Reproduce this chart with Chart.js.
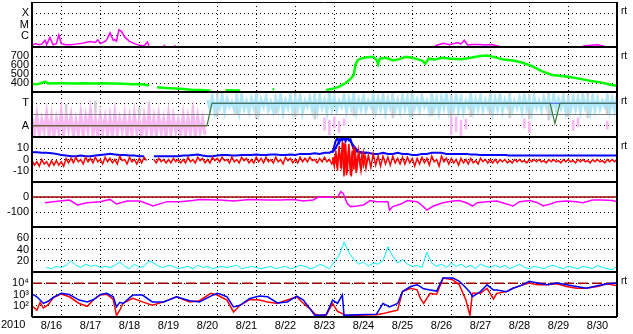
<!DOCTYPE html>
<html>
<head>
<meta charset="utf-8">
<script src="https://cdn.jsdelivr.net/npm/chart.js@4/dist/chart.umd.min.js"></script>
<style>
  html, body { margin: 0; padding: 0; background: #fff; }
  #wrap { width: 633px; height: 334px; }
</style>
</head>
<body>
<div id="wrap"><canvas id="chart"></canvas></div>
<script>
// time axis: hours since 2010-08-16 00:00 UT, 15 days
const yearLabel = "2010";
const dayLabels = ["8/16", "8/17", "8/18", "8/19", "8/20", "8/21", "8/22", "8/23",
    "8/24", "8/25", "8/26", "8/27", "8/28", "8/29", "8/30"];
const hours3 = [0, 3, 6, 9, 12, 15, 18, 21, 24, 27, 30, 33, 36, 39, 42, 45, 48, 51, 54, 57, 60, 63, 66, 69,
    72, 75, 78, 81, 84, 87, 90, 93, 96, 99, 102, 105, 108, 111, 114, 117, 120, 123, 126, 129, 132, 135, 138, 141,
    144, 147, 150, 153, 156, 159, 162, 165, 168, 171, 174, 177, 180, 183, 186, 189, 192, 195, 198, 201, 204, 207,
    210, 213, 216, 219, 222, 225, 228, 231, 234, 237, 240, 243, 246, 249, 252, 255, 258, 261, 264, 267, 270, 273,
    276, 279, 282, 285, 288, 291, 294, 297, 300, 303, 306, 309, 312, 315, 318, 321, 324, 327, 330, 333, 336, 339,
    342, 345, 348, 351, 354, 357, 360];

// panel 1: x-ray flux (W/m2)
const xrayTicks = [1e-4, 1e-5, 1e-6];
const xrayTickLabels = ["X", "M", "C"];
const xrayHours = [0, 2, 4, 6, 8, 9, 11, 13, 15, 16.5, 18, 21, 24, 27, 30, 33, 36, 39, 40.5, 42, 45, 46, 48, 50, 51,
    52, 53.5, 55, 57, 60, 63, 66, 69, 71, 72, 73, 81, 82, 83, 87.5, 88.5, 89, 248, 253, 257, 262, 264, 266, 268,
    271, 275, 279, 283, 287, 288, 289, 339, 344, 348, 352, 353];
const xrayFlux = [1.4e-7, 2.0e-7, 1.6e-7, 1.8e-7, 4.0e-7, 1.6e-7, 7.1e-7, 1.6e-7, 2.0e-7, 1.15e-6,
    2.0e-7, 1.6e-7, 1.6e-7, 1.8e-7, 2.0e-7, 2.5e-7, 3.0e-7, 2.5e-7, 4.5e-7, 2.0e-7,
    3.2e-7, 4.5e-7, 1.8e-6, 4.0e-7, 4.5e-7, 3.2e-7, 3.5e-6, 2.5e-6, 7.9e-7, 3.2e-7,
    2.0e-7, 1.4e-7, 1.26e-7, 2.8e-7, 1.26e-7, null, 1.4e-7, 1.3e-7, null, 1.2e-7,
    1.2e-7, null, 1.3e-7, 2.1e-7, 1.6e-7, 2.5e-7, 1.8e-7, 4.0e-7, 1.5e-7, 1.7e-7,
    1.7e-7, 1.5e-7, 1.7e-7, 1.2e-7, 1.1e-7, null, 1.2e-7, 1.4e-7, 1.6e-7, 1.2e-7, null];

// panel 2: solar wind speed (km/s)
const speedTicks = [700, 600, 500, 400];
const speedHours = [0, 3, 6, 8, 10, 14, 20, 26, 32, 38, 44, 50, 56, 62, 66, 70, 72, 73, 77, 82, 88, 93, 98, 104,
    108, 110, 111, 119, 128, 129, 148, 149, 150, 181, 186, 189, 193, 196, 198, 199, 200.5, 203, 206, 210, 212, 213,
    214, 218, 222, 226, 230, 234, 238, 240, 242, 244, 248, 252, 258, 264, 270, 276, 280, 284, 290, 296, 302, 308,
    314, 320, 326, 332, 338, 344, 350, 356, 360];
const speedKms = [390, 385, 400, 415, 395, 398, 396, 395, 398, 394, 396, 395, 392, 385, 388, 380, 372, null,
    352, 345, 340, 333, 325, 322, 318, 315, null, 319, 318, null, 330, 330, null, 322, 340, 360, 400, 445, 490,
    600, 656, 674, 685, 692, 656, 610, 670, 680, 650, 665, 690, 680, 660, 650, 615, 670, 660, 680, 670, 665, 680,
    700, 705, 690, 660, 650, 625, 585, 530, 490, 478, 463, 443, 422, 407, 380, 368];

// panel 3: sector (T = toward, A = away); noisy bands given as low/high per 3 h
const sectorTicks = [1, -1];
const sectorTickLabels = ["T", "A"];
const pinkHours = hours3.slice(0, 36);
const pinkHi = [-0.3, -0.1, -0.5, 0.1, -0.2, -0.4, 0.2, -0.3, -0.1, -0.5, 0.0, -0.2, 0.3, -0.4, -0.1, -0.3,
    -0.2, 0.1, -0.4, -0.1, -0.3, 0.0, -0.5, -0.2, 0.2, -0.3, -0.1, -0.4, 0.0, -0.2, -0.5, -0.1, -0.3, 0.1, -0.2,
    -0.4];
const pinkLo = [-1.7, -1.9, -1.5, -1.8, -1.95, -1.6, -1.8, -1.4, -1.9, -1.7, -1.95, -1.5, -1.8, -1.9, -1.6,
    -1.8, -1.95, -1.7, -1.5, -1.9, -1.8, -1.6, -1.95, -1.7, -1.8, -1.9, -1.6, -1.95, -1.7, -1.5, -1.8, -1.9,
    -1.7, -1.95, -1.6, -1.8];
const pinkLateHours = [180, 183, 186, 189, 192, 258, 261, 264, 267, 303, 306, 333, 336, 354];
const pinkLateHi = [-0.3, -0.5, -0.2, -0.6, -0.4, -0.3, -0.2, -0.5, -0.4, -0.4, -0.6, -0.5, -0.3, -0.6];
const pinkLateLo = [-1.4, -1.8, -1.2, -1.6, -1.0, -1.8, -1.5, -1.9, -1.3, -1.2, -1.6, -1.4, -1.1, -1.3];
const skyHours = hours3.slice(36);
const skyHi = [1.3, 1.6, 1.2, 1.7, 1.4, 1.1, 1.5, 1.65, 1.2, 1.4, 1.7, 1.3, 1.55, 1.1, 1.45, 1.7, 1.25, 1.6,
    1.35, 1.7, 1.2, 1.5, 1.4, 1.65, 1.3, 1.75, 1.5, 1.2, 1.6, 1.4, 1.7, 1.3, 1.55, 1.2, 1.65, 1.4, 1.7, 1.35,
    1.5, 1.25, 1.6, 1.45, 1.7, 1.3, 1.55, 1.2, 1.65, 1.4, 1.5, 1.75, 1.3, 1.6, 1.45, 1.2, 1.7, 1.35, 1.55,
    1.25, 1.6, 1.4, 1.7, 1.3, 1.5, 1.2, 1.45, 1.65, 1.3, 1.55, 1.2, 1.5, 1.4, 1.7, 1.35, 1.6, 1.25, 1.5, 1.45,
    1.7, 1.3, 1.6, 1.4, 1.2, 1.55, 1.35, 1.6];
const skyLo = [0.5, 0.2, 0.6, 0.3, 0.7, 0.4, 0.2, 0.5, 0.3, 0.6, 0.2, 0.7, 0.4, 0.3, 0.5, 0.2, 0.6, 0.3, 0.5,
    0.2, 0.7, 0.4, 0.3, 0.6, 0.2, 0.5, 0.4, 0.7, 0.3, 0.6, 0.2, 0.5, 0.4, 0.7, 0.3, 0.5, 0.2, 0.6, 0.4, 0.3,
    0.5, 0.2, 0.6, 0.4, 0.7, 0.3, 0.5, 0.2, 0.6, 0.3, 0.5, 0.4, 0.2, 0.7, 0.3, 0.5, 0.4, 0.6, 0.2, 0.5, 0.3,
    0.7, 0.4, 0.6, 0.3, 0.5, 0.2, 0.6, 0.4, 0.7, 0.3, 0.5, 0.6, 0.2, 0.4, 0.5, 0.3, 0.6, 0.2, 0.4, 0.5, 0.7,
    0.3, 0.4, 0.6];
const greyHours = [21, 39, 66, 72, 99, 114, 126, 138, 150, 162, 174, 198, 210, 222, 234, 246, 258, 270, 282,
    294, 306, 318, 330, 342, 354];
const greyHi = [0.9, 1.2, 0.6, 1.1, 0.8, 1.9, 1.8, 1.9, 1.7, 1.9, 1.8, 1.9, 1.7, 1.9, 1.8, 1.9, 1.7, 1.9, 1.8,
    1.9, 1.8, 1.9, 1.7, 1.9, 1.8];
const greyLo = [-0.4, 0.1, -0.2, 0.2, -0.5, -0.2, 0.0, -0.3, 0.1, -0.2, -0.4, -0.1, 0.0, -0.3, -0.2, -0.1,
    -0.4, -0.2, 0.0, -0.3, -0.4, -0.5, -0.2, -0.3, 0.0];
const polarityHours = [0, 107.7, 110.7, 318.8, 321.8, 324.9, 360];
const polarity = [-1, -1, 1, 1, -0.8, 1, 1];
const awayEnd = 107.7;
const towardStart = 110.7;

// panel 4: IMF Bt (blue) and Bz (red, low/high per 3 h), nT
const magTicks = [10, 0, -10];
const btNt = [6.5, 6.5, 6, 6, 5.5, 5, 4, 3.5, 3, 3, 3.5, 3, 3, 3.5, 4, 4.5, 5, 4.5, 4, 4, 3.5, 3.5, 3, 3,
    null, 3, 3, 3, 3, 3, 3, 3.5, 3.5, 4, 4.5, 3.5, 3, 3, 3.5, 4, 4, 3.5, 3.5, 4, 4, 4, 4.5, 4,
    4, 4.5, 4.5, 4, 4, 4.5, 4, 5, 5, 5, 5.5, 5, 6, 6, 8, 16, 19, 18, 12, 7, 6, 6, 5, 5,
    6, 5, 5, 6, 5, 5, 4, 4, 5, 5, 6, 6, 6, 5, 5, 5, 5, 5, 4.5, 4.5, 4, 4, 4, 4,
    4, 4, 3.5, 3.5, 3.5, 3.5, 3.5, 3.5, 3.5, 3.5, 3.5, 3.5, 3.5, 3.5, 3.5, 3.5,
    3.5, 3.5, 3.5, 3.5, 3.5, 3.5, 3.5, 3.5, 3.5];
const bzHi = [-1, -2, 0, -2, -1, -1, -2, 1, 1, 2, 0, 2, 1, 2, 0, 2, 1, 0, 3, 0, 2, 0, 1, 2,
    null, 0, 1, 0, 0, 1, 0, 0, 2, 0, 2, 1, 0, 2, 1, 2, 0, 2, 0, 2, 1, 0, 2, 1,
    2, 0, 2, 0, 2, 1, 0, 2, 1, 2, 0, 1, 2, 0, 2, 8, 15, 14, 12, 8, 6, 4, 5, 3,
    3, 2, 3, 1, 2, 2, 1, 1, 2, 1, 3, 0, 3, 1, 1, 0, 1, 0, 1, -1, 1, 0, 0, 0,
    0, 0, -1, 0, 0, -1, 0, 0, 0, -1, 0, 0, -1, 0, 0, -1,
    0, 0, -1, 0, 0, -1, 0, 0, 0];
const bzLo = [-5, -6, -4, -6, -5, -5, -6, -3, -3, -2, -4, -2, -3, -2, -4, -2, -3, -4, -1, -4, -2, -4, -3, -1,
    null, -3, -2, -3, -3, -2, -3, -3, -2, -3, -1, -3, -3, -1, -2, -1, -3, -2, -3, -1, -3, -3, -2, -3,
    -2, -3, -2, -4, -1, -3, -3, -2, -2, -1, -3, -2, -2, -4, -5, -6, -14, -15, -12, -10, -8, -7, -5, -6,
    -4, -5, -3, -4, -4, -3, -6, -4, -3, -5, -2, -6, -2, -4, -3, -5, -3, -4, -3, -4, -2, -3, -3, -3,
    -2, -3, -3, -2, -2, -3, -2, -2, -2, -3, -2, -2, -3, -2, -2, -3,
    -2, -2, -3, -2, -2, -3, -2, -2, -2];
const stormHours = [185, 186, 187, 188, 189, 190, 191, 192, 193, 194, 195, 196, 197, 198, 199, 200, 201, 202,
    203, 204, 205, 206];
const btStorm = [6, 12, 17, 19, 15, 20, 17, 19, 16, 20, 17, 18, 13, 10, 8, 7, 7, 6, 6, 6, 6, 6];
const bzStorm = [2, -6, 8, -10, 12, -8, 16, -15, 14, -12, 10, -14, 8, -9, 6, -7, 5, -6, 4, -5, 3, -3];

// panel 5: Dst (nT)
const dstTicks = [0, -100];
const dstHours = [8, 17, 23, 28, 34, 42, 48, 52, 58.5, 66.5, 74.5, 83, 91, 99, 103, 114, 116, 124, 134, 145,
    153, 161, 167, 173, 176, 185, 186, 188, 190, 191.5, 194, 196, 200, 204, 208, 212, 219, 220, 222, 227, 231,
    237, 239, 243, 247, 253, 259, 263, 268, 271, 274, 280, 286, 292, 296, 300, 306.5, 311, 314.5, 319, 323, 329,
    335, 339, 345, 351, 357.5, 360];
const dstNt = [-38, -27, -20, -53, -38, -31, -16, -47, -27, -27, -60, -31, -31, -24, -16, -20, -20, -27, -16,
    -20, -20, -16, -27, -20, -2, -2, null, -2, 36, 24, -44, -64, -60, -53, -24, -31, -31, -87, -64, -47, -24,
    -31, -47, -87, -60, -38, -27, -24, -42, -60, -38, -31, -27, -47, -60, -31, -24, -38, -60, -47, -31, -27,
    -31, -38, -20, -20, -24, -31];

// panel 6: density-like trace
const densTicks = [60, 40, 20];
const density = [null, null, null, 8, 6, 10, 8, 12, 20, 12, 8, 14, 10, 12, 8, 10, 8, 12, 18, 10, 6, 14, 8, 10,
    20, 16, 10, 8, 12, 10, 6, 8, 10, 6, 12, 8, 10, 6, 8, 10, 8, 10, 12, 6, 8, 10, 8, 6,
    8, 10, 6, 8, 10, 6, 8, 12, 10, 6, 8, 14, 10, 6, 18, 30, 53, 35, 22, 14, 18, 10, 16, 14,
    20, 45, 28, 16, 22, 14, 10, 12, 8, 35, 16, 10, 14, 8, 16, 10, 14, 8, 12, 6, 14, 10, 8, 12,
    8, 12, 6, 10, 14, 8, 6, 10, 8, 6, 10, 12, 8, 6, 10, 8, 6, 10, 8, 6, 12, 8, 6, 4, 10];

// panel 7: particle flux, two channels
const fluxTicks = [1e4, 1e3, 1e2];
const fluxTickLabels = ["10\u2074", "10\u00b3", "10\u00b2"];
const fluxAlert = 1e4;
const fluxHours = [0, 3, 5, 7, 10, 13, 18, 23, 29, 34, 38, 42, 46, 50, 52, 54, 56, 62, 68, 74, 81, 89, 97, 103,
    110, 114, 116, 120, 124, 128, 134, 140, 145, 151, 157, 163, 167, 171, 174, 177, 181, 185, 188, 191, 192, 200,
    212, 216, 220, 225, 228, 233, 237, 239, 241, 245, 249, 253, 259, 263, 267, 269.5, 271, 276, 280, 284, 286,
    292, 296, 302, 306, 311, 317, 323, 329, 335, 341, 348, 354, 360];
const fluxBlue = [1120, 630, 320, 160, 250, 550, 1260, 1000, 320, 220, 360, 1000, 1290, 630, 80, 200, 160, 890,
    890, 220, 220, 630, 280, 220, 720, 1290, 1050, 630, 78, 110, 450, 720, 630, 180, 220, 720, 320, 55, 14, 14,
    16, 320, 160, 890, 14, 16, 18, 160, 78, 160, 1800, 5100, 7200, 5000, 3200, 2500, 2000, 29500, 29500, 14800,
    4000, 1600, 630, 1800, 7200, 2500, 2500, 1800, 3600, 7200, 14800, 10500, 7200, 10500, 7200, 5100, 3600, 5900,
    8900, 10500];
const fluxRed = [100, 40, 200, 63, 126, 500, 1120, 630, 160, 89, 360, 890, 1050, 360, 14, 40, 160, 450, 220, 110,
    220, 630, 220, 280, 1290, 890, 630, 320, 28, 110, 360, 320, 220, 160, 320, 630, 160, 55, 19, 14, 14, 160, 32,
    20, 14, 14, 16, 20, 28, 40, 1800, 3600, 2600, 450, 160, 1260, 1000, 29500, 20000, 7200, 320, 14, 1290, 1290,
    3600, 400, 1260, 1800, 3600, 7200, 10500, 7200, 7200, 8900, 5100, 3600, 3600, 5100, 8900, 5900];

const FONT = "'Liberation Sans', Arial, sans-serif";
const panelIds = ["yXray", "ySpeed", "ySector", "yMag", "yDst", "yDens", "yFlux"];
const rtPanels = ["yXray", "ySpeed", "ySector", "yMag", "yFlux"];

const pts = (xs, ys) => xs.map((x, i) => ({ x: x, y: ys[i] }));
const spans = (xs, lo, hi) => xs.map((x, i) => ({ x: x, y: [lo[i], hi[i]] }));
// low/high pairs drawn as a scribble: high at the sample hour, low half a step later
const scribble = (xs, lo, hi) => xs.flatMap((x, i) => [{ x: x, y: hi[i] }, { x: x + 1.5, y: lo[i] }]);

function line(axis, data, color, width, order, dash) {
    return {
        type: "line", yAxisID: axis, data: data, borderColor: color, borderWidth: width,
        borderDash: dash || [], pointRadius: 0, fill: false, tension: 0, order: order
    };
}

function band(axis, data, color, order) {
    return {
        type: "bar", yAxisID: axis, data: data, backgroundColor: color, borderWidth: 0,
        barThickness: 2, grouped: false, order: order
    };
}

function panelScale(weight, type, min, max, tickValues, tickLabels) {
    return {
        type: type, min: min, max: max, position: "left", stack: "panels", stackWeight: 1, weight: weight,
        grid: { color: "#000", lineWidth: 1, drawTicks: false },
        border: { display: false, dash: [1, 3] },
        ticks: {
            color: "#000", font: { family: FONT, size: 11 }, padding: 3, autoSkip: false,
            callback: (v, i) => tickLabels[i]
        },
        afterBuildTicks: s => { s.ticks = tickValues.map(v => ({ value: v })); },
        afterFit: s => { s.width = 32; s.paddingTop = 0; s.paddingBottom = 0; }
    };
}

const panelFrame = {
    id: "panelFrame",
    afterDatasetsDraw(chart) {
        const { ctx, chartArea } = chart;
        ctx.save();
        ctx.strokeStyle = "#000";
        ctx.lineWidth = 2;
        ctx.beginPath();
        panelIds.slice(1).forEach(id => {
            const top = Math.round(chart.scales[id].top);
            ctx.moveTo(chartArea.left, top);
            ctx.lineTo(chartArea.right, top);
        });
        ctx.moveTo(chartArea.left, chartArea.bottom);
        ctx.lineTo(chartArea.right, chartArea.bottom);
        ctx.moveTo(chartArea.left, chartArea.top);
        ctx.lineTo(chartArea.left, chartArea.bottom);
        ctx.moveTo(chartArea.right, chartArea.top);
        ctx.lineTo(chartArea.right, chartArea.bottom);
        ctx.stroke();
        ctx.lineWidth = 1;
        ctx.beginPath();
        ctx.moveTo(chartArea.left, chartArea.top + 0.5);
        ctx.lineTo(chartArea.right, chartArea.top + 0.5);
        ctx.stroke();

        ctx.fillStyle = "#000";
        ctx.font = "10px " + FONT;
        ctx.textBaseline = "middle";
        ctx.textAlign = "left";
        rtPanels.forEach(id => ctx.fillText("rt", chartArea.right + 4, chart.scales[id].top + 9));
        ctx.font = "11px " + FONT;
        ctx.textBaseline = "top";
        ctx.fillText(yearLabel, 1, chartArea.bottom + 2);
        ctx.restore();
    }
};

const datasets = [
    // x-ray
    line("yXray", pts(xrayHours, xrayFlux), "#ff00ff", 1.5, 1),
    // speed
    line("ySpeed", pts(speedHours, speedKms), "#00ff00", 2.5, 1),
    // sector
    line("ySector", pts(polarityHours, polarity), "#3c783c", 1.2, 1),
    line("ySector", pts([0, awayEnd], [-1, -1]), "#cc2020", 1.2, 2),
    line("ySector", pts([towardStart, 360], [1, 1]), "#4050e0", 1.2, 2),
    line("ySector", pts([0, 360], [0, 0]), "#808080", 1.2, 3),
    line("ySector", scribble(pinkHours, pinkLo, pinkHi), "#f8b8f4", 3, 4),
    band("ySector", spans(pinkLateHours, pinkLateLo, pinkLateHi), "#f8b8f4", 4),
    line("ySector", scribble(skyHours, skyLo, skyHi), "#b0e8fa", 3, 4),
    band("ySector", spans(greyHours, greyLo, greyHi), "#d0d0d0", 5),
    // magnetic field
    line("yMag", pts(stormHours, bzStorm), "#ff0000", 1.5, 1),
    line("yMag", scribble(hours3, bzLo, bzHi), "#ff0000", 1.5, 1),
    line("yMag", pts(stormHours, btStorm), "#0000ff", 2, 2),
    line("yMag", pts(hours3, btNt), "#0000ff", 2, 2),
    // dst
    line("yDst", pts(dstHours, dstNt), "#ff00ff", 1.5, 1),
    line("yDst", pts([0, 360], [0, 0]), "#a00000", 1.5, 2),
    // density
    line("yDens", pts(hours3, density), "#00f0ff", 1, 1),
    // flux
    line("yFlux", pts(fluxHours, fluxBlue), "#0000ff", 1.5, 1),
    line("yFlux", pts(fluxHours, fluxRed), "#ff0000", 1.5, 2),
    line("yFlux", pts([0, 360], [fluxAlert, fluxAlert]), "#a00000", 1.5, 3, [10, 4])
];

new Chart(document.getElementById("chart"), {
    type: "line",
    data: { datasets: datasets },
    plugins: [panelFrame],
    options: {
        responsive: true,
        maintainAspectRatio: false,
        animation: false,
        events: [],
        layout: { padding: { top: 2, right: 16, bottom: 0, left: 0 } },
        plugins: { legend: { display: false }, tooltip: { enabled: false } },
        scales: {
            x: {
                type: "linear", min: 0, max: 360, position: "bottom", offset: false,
                grid: {
                    lineWidth: 1, drawTicks: false,
                    color: c => (c.tick && c.tick.value % 24 === 0 && c.tick.value > 0 && c.tick.value < 360)
                        ? "#000" : "rgba(0,0,0,0)"
                },
                border: { display: false, dash: [1, 3] },
                ticks: {
                    color: "#000", font: { family: FONT, size: 11 }, padding: 2, autoSkip: false, maxRotation: 0,
                    callback: v => (v % 24 === 12 ? dayLabels[(v - 12) / 24] : "")
                },
                afterBuildTicks: s => {
                    s.ticks = hours3.filter(h => h % 12 === 0).map(h => ({ value: h }));
                },
                afterFit: s => { s.height = 17; s.paddingLeft = 0; s.paddingRight = 0; }
            },
            yXray: panelScale(7, "logarithmic", 1e-7, 1e-3, xrayTicks, xrayTickLabels),
            ySpeed: panelScale(6, "linear", 300, 800, speedTicks, speedTicks.map(String)),
            ySector: panelScale(5, "linear", -2, 2, sectorTicks, sectorTickLabels),
            yMag: panelScale(4, "linear", -20, 20, magTicks, magTicks.map(String)),
            yDst: panelScale(3, "linear", -200, 100, dstTicks, dstTicks.map(String)),
            yDens: panelScale(2, "linear", 0, 80, densTicks, densTicks.map(String)),
            yFlux: panelScale(1, "logarithmic", 10, 1e5, fluxTicks, fluxTickLabels)
        }
    }
});
</script>
</body>
</html>
